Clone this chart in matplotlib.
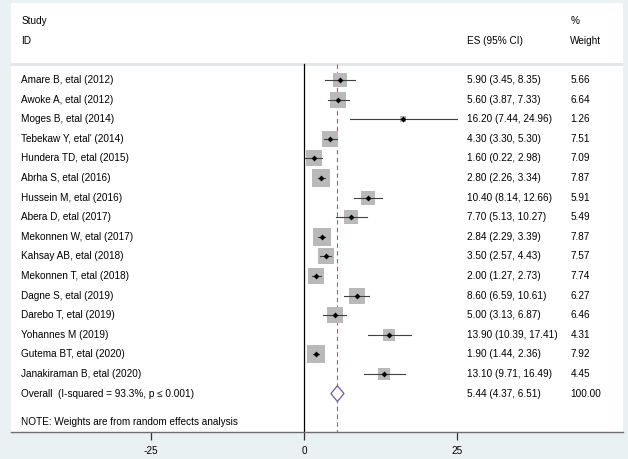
import matplotlib
matplotlib.use('Agg')
import matplotlib.pyplot as plt
from matplotlib.patches import Polygon

plt.rcParams['font.family'] = ['Liberation Sans', 'DejaVu Sans']

studies = ['Amare B, etal (2012)', 'Awoke A, etal (2012)', 'Moges B, etal (2014)',
           "Tebekaw Y, etal' (2014)", 'Hundera TD, etal (2015)', 'Abrha S, etal (2016)',
           'Hussein M, etal (2016)', 'Abera D, etal (2017)', 'Mekonnen W, etal (2017)',
           'Kahsay AB, etal (2018)', 'Mekonnen T, etal (2018)', 'Dagne S, etal (2019)',
           'Darebo T, etal (2019)', 'Yohannes M (2019)', 'Gutema BT, etal (2020)',
           'Janakiraman B, etal (2020)']
es = [5.90, 5.60, 16.20, 4.30, 1.60, 2.80, 10.40, 7.70, 2.84, 3.50, 2.00, 8.60, 5.00, 13.90, 1.90, 13.10]
lo = [3.45, 3.87, 7.44, 3.30, 0.22, 2.26, 8.14, 5.13, 2.29, 2.57, 1.27, 6.59, 3.13, 10.39, 1.44, 9.71]
hi = [8.35, 7.33, 24.96, 5.30, 2.98, 3.34, 12.66, 10.27, 3.39, 4.43, 2.73, 10.61, 6.87, 17.41, 2.36, 16.49]
weights = [5.66, 6.64, 1.26, 7.51, 7.09, 7.87, 5.91, 5.49, 7.87, 7.57, 7.74, 6.27, 6.46, 4.31, 7.92, 4.45]

overall_label = 'Overall  (I-squared = 93.3%, p \u2264 0.001)'
overall_es, overall_lo, overall_hi = 5.44, 4.37, 6.51
overall_weight = '100.00'
xticks = [-25, 0, 25]
clip_max = 25

fs = 7.2
bg = '#eaf1f3'

fig = plt.figure(figsize=(6.28, 4.59), dpi=100, facecolor=bg)
ax = fig.add_axes([11 / 628, 27 / 459, 612 / 628, 429 / 459])
ax.set_facecolor('white')

x0, x1 = -47.9, 52.1
ax.set_xlim(x0, x1)
ax.set_ylim(18.96, -2.93)

n = len(studies)
rows = list(range(1, n + 1))
overall_row = n + 1
sep_row = 0.18

# reference lines
ax.plot([0, 0], [sep_row, 18.96], color='black', lw=0.9, zorder=2)
ax.plot([overall_es, overall_es], [sep_row, 18.96], color='#a86060', lw=0.8,
        ls=(0, (4, 3)), zorder=2)
ax.axhline(sep_row, color='#e2e6e8', lw=2, zorder=1)

# study boxes, CIs and points
for r, e, l, h, w in zip(rows, es, lo, hi, weights):
    ax.scatter(e, r, s=19.06 * w, marker='s', color='#b9b9b9', lw=0, zorder=3)
    if h > clip_max:
        ax.annotate('', xy=(clip_max, r), xytext=(l, r),
                    arrowprops=dict(arrowstyle='->,head_length=0.6,head_width=0.35',
                                    color='#404040', lw=0.8, shrinkA=0, shrinkB=0), zorder=4)
    else:
        ax.plot([l, h], [r, r], color='#404040', lw=0.8, zorder=4)
    ax.scatter(e, r, s=9, marker='D', color='black', lw=0, zorder=5)

# overall diamond
diamond = Polygon([(overall_lo, overall_row), (overall_es, overall_row - 0.4),
                   (overall_hi, overall_row), (overall_es, overall_row + 0.4)],
                  closed=True, facecolor='white', edgecolor='#6b5b9c', lw=0.9, zorder=5)
ax.add_patch(diamond)

# text columns
name_x, es_x, w_x = -46.2, 26.6, 43.5
ax.text(name_x, -2, 'Study', fontsize=fs, va='center')
ax.text(name_x, -1, 'ID', fontsize=fs, va='center')
ax.text(es_x, -1, 'ES (95% CI)', fontsize=fs, va='center')
ax.text(w_x, -2, '%', fontsize=fs, va='center')
ax.text(w_x, -1, 'Weight', fontsize=fs, va='center')

for r, s, e, l, h, w in zip(rows, studies, es, lo, hi, weights):
    ax.text(name_x, r, s, fontsize=fs, va='center')
    ax.text(es_x, r, f'{e:.2f} ({l:.2f}, {h:.2f})', fontsize=fs, va='center')
    ax.text(w_x, r, f'{w:.2f}', fontsize=fs, va='center')

ax.text(name_x, overall_row, overall_label, fontsize=fs, va='center')
ax.text(es_x, overall_row, f'{overall_es:.2f} ({overall_lo:.2f}, {overall_hi:.2f})',
        fontsize=fs, va='center')
ax.text(w_x, overall_row, overall_weight, fontsize=fs, va='center')
ax.text(name_x, 18.45, 'NOTE: Weights are from random effects analysis', fontsize=fs, va='center')

# axis styling
for side in ['top', 'right', 'left']:
    ax.spines[side].set_visible(False)
ax.spines['bottom'].set_color('#6e6e6e')
ax.spines['bottom'].set_linewidth(1.0)
ax.set_yticks([])
ax.set_xticks(xticks)
ax.set_xticklabels([str(t) for t in xticks])
ax.tick_params(axis='x', length=6, width=0.9, color='#333333', labelsize=fs, pad=4)

fig.savefig('out.png', dpi=100, facecolor=bg)
